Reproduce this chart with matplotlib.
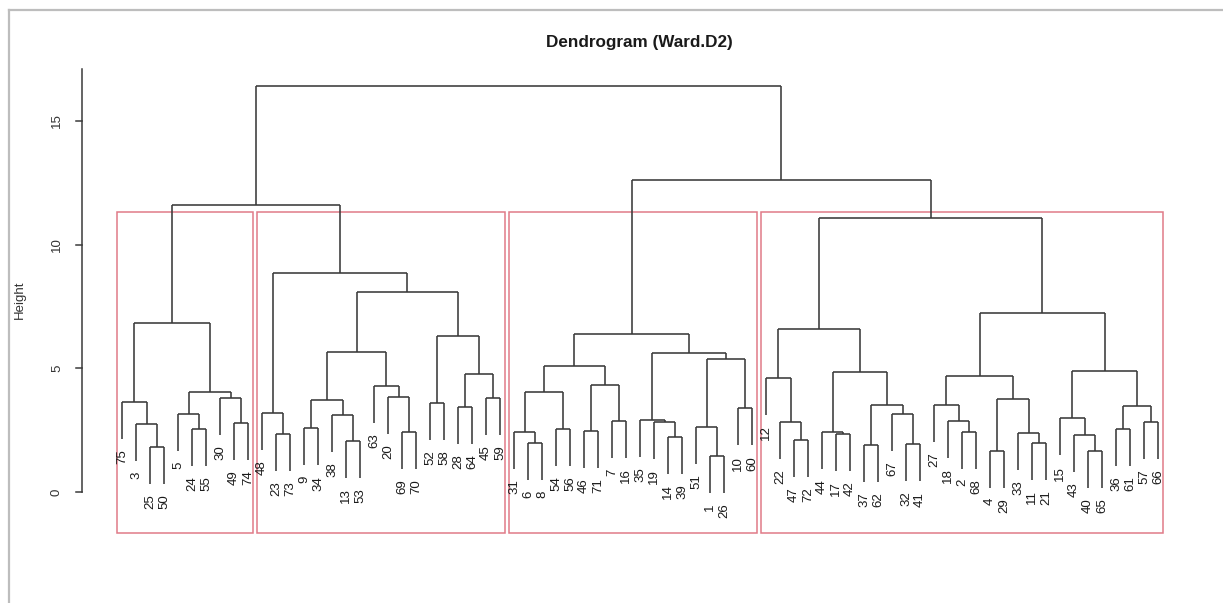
import matplotlib
matplotlib.use("Agg")
import matplotlib.pyplot as plt
from matplotlib.lines import Line2D
from matplotlib.patches import Rectangle

plt.rcParams["font.family"] = ["Liberation Sans", "DejaVu Sans"]

# hclust-style merge table: negative = observation label, positive = earlier merge (1-based)
merge_left = [
    -25, -3, -75, -24, -5, -49, -30, 5, 3,
    -23, -48, -9, -13, -38, 12, -69, -20, -63, 15, -52, -28, -45, 21, 20, 19, 11, 9,
    -6, -31, -54, 29, -46, -7, 32, 31, -14, -19, -35, -1, -51, -10, 40, 38, 35,
    -47, -22, -12, -17, -44, -37, -32, -67, 50, 49, 47,
    -2, -18, -27, -4, -11, -33, 59, 58, -40, -43, -15, -36, -57, 67, 66, 63,
    55, 44, 27,
]
merge_right = [
    -50, 1, 2, -55, 4, -74, 6, 7, 8,
    -73, 10, -34, -53, 13, 14, -70, 16, 17, 18, -58, -64, -59, 22, 23, 24, 25, 26,
    -8, 28, -56, 30, -71, -16, 33, 34, -39, 36, 37, -26, 39, -60, 41, 42, 43,
    -72, 45, 46, -42, 48, -62, -41, 51, 52, 53, 54,
    -68, 56, 57, -29, -21, 60, 61, 62, -65, 64, 65, -61, -66, 68, 69, 70,
    71, 72, 73,
]
merge_height = [
    1.83, 2.75, 3.63, 2.55, 3.14, 2.78, 3.79, 4.03, 6.85,
    2.34, 3.18, 2.57, 2.06, 3.10, 3.72, 2.44, 3.85, 4.30, 5.65, 3.59, 3.44, 3.81, 4.77, 6.29, 8.10, 8.84, 11.60,
    1.99, 2.44, 2.55, 4.06, 2.47, 2.87, 4.31, 5.10, 2.24, 2.84, 2.92, 1.47, 2.64, 3.38, 5.38, 5.61, 6.39,
    2.10, 2.83, 4.60, 2.35, 2.44, 1.90, 1.93, 3.15, 3.51, 4.87, 6.59,
    2.44, 2.87, 3.52, 1.67, 1.99, 2.37, 3.75, 4.69, 1.67, 2.30, 2.98, 2.55, 2.84, 3.49, 4.91, 7.23,
    11.08, 12.62, 16.42,
]
n_clusters = 4
y_ticks = [0, 5, 10, 15]
title = "Dendrogram (Ward.D2)"
y_label = "Height"

# ---- layout (pixel grid of the canvas) ----
W, H = 1223, 603
leaf_px0, leaf_dx = 122.0, 14.0
base_py, dy = 492.0, 24.73


def to_x(px):
    return 1 + (px - leaf_px0) / leaf_dx


def to_y(py):
    return (base_py - py) / dy


fig = plt.figure(figsize=(W / 100, H / 100), dpi=100)
ax = fig.add_axes([0, 0, 1, 1])
ax.set_xlim(to_x(0), to_x(W))
ax.set_ylim(to_y(H), to_y(0))
ax.axis("off")

# ---- leaf order and node positions ----
n_merge = len(merge_height)
order = []


def collect(node):
    if node < 0:
        order.append(-node)
    else:
        collect(merge_left[node - 1])
        collect(merge_right[node - 1])


root = n_merge
collect(root)
leaf_pos = {lab: i + 1 for i, lab in enumerate(order)}

node_x = {}
for i in range(n_merge):
    xs = []
    for c in (merge_left[i], merge_right[i]):
        xs.append(leaf_pos[-c] if c < 0 else node_x[c])
    node_x[i + 1] = sum(xs) / 2

hang = 0.1 * (max(merge_height) - min(merge_height))
line_col = "#3a3a3a"
lw = 1.15

for i in range(n_merge):
    h = merge_height[i]
    xs = []
    for c in (merge_left[i], merge_right[i]):
        if c < 0:
            x = leaf_pos[-c]
            y_end = h - hang
            ax.text(x, y_end - 0.42, str(-c), rotation=90, ha="center", va="top",
                    fontsize=9.5, color="#1a1a1a")
        else:
            x = node_x[c]
            y_end = merge_height[c - 1]
        ax.plot([x, x], [y_end, h], color=line_col, lw=lw, solid_capstyle="butt")
        xs.append(x)
    ax.plot([xs[0], xs[1]], [h, h], color=line_col, lw=lw, solid_capstyle="butt")

# ---- cluster boxes (cut into n_clusters groups) ----
sorted_h = sorted(merge_height, reverse=True)
cut_h = (sorted_h[n_clusters - 2] + sorted_h[n_clusters - 1]) / 2
clusters = []


def find_clusters(node):
    if node > 0 and merge_height[node - 1] > cut_h:
        find_clusters(merge_left[node - 1])
        find_clusters(merge_right[node - 1])
    else:
        sub = []

        def leaves(nd):
            if nd < 0:
                sub.append(leaf_pos[-nd])
            else:
                leaves(merge_left[nd - 1])
                leaves(merge_right[nd - 1])

        leaves(node)
        clusters.append((min(sub), max(sub)))


find_clusters(root)
box_bottom = to_y(532.5)
for lo, hi in clusters:
    ax.add_patch(Rectangle((lo - 0.34, box_bottom), (hi + 0.33) - (lo - 0.34),
                           cut_h - box_bottom, fill=False, edgecolor="#E07A88", lw=1.1))

# ---- y axis ----
ax_x = to_x(82)
ax.plot([ax_x, ax_x], [0, to_y(69)], color="#3a3a3a", lw=1.1)
tick_len = 6 / leaf_dx
for t in y_ticks:
    ax.plot([ax_x - tick_len, ax_x], [t, t], color="#3a3a3a", lw=1.1)
    ax.text(to_x(57), t, str(t), rotation=90, ha="center", va="center",
            fontsize=9.5, color="#333333")
ax.text(to_x(20), to_y(300), y_label, rotation=90, ha="center", va="center",
        fontsize=9.5, color="#333333")

# ---- title ----
ax.text(to_x(639), to_y(42), title, ha="center", va="center",
        fontsize=12.3, fontweight="bold", color="#1a1a1a")

# ---- outer frame ----
fig.add_artist(Line2D([9 / W, 1], [1 - 10 / H, 1 - 10 / H], transform=fig.transFigure,
                      color="#bdbdbd", lw=1.6))
fig.add_artist(Line2D([9 / W, 9 / W], [0, 1 - 10 / H], transform=fig.transFigure,
                      color="#bdbdbd", lw=1.6))

fig.savefig("out.png", dpi=100, facecolor="white")
